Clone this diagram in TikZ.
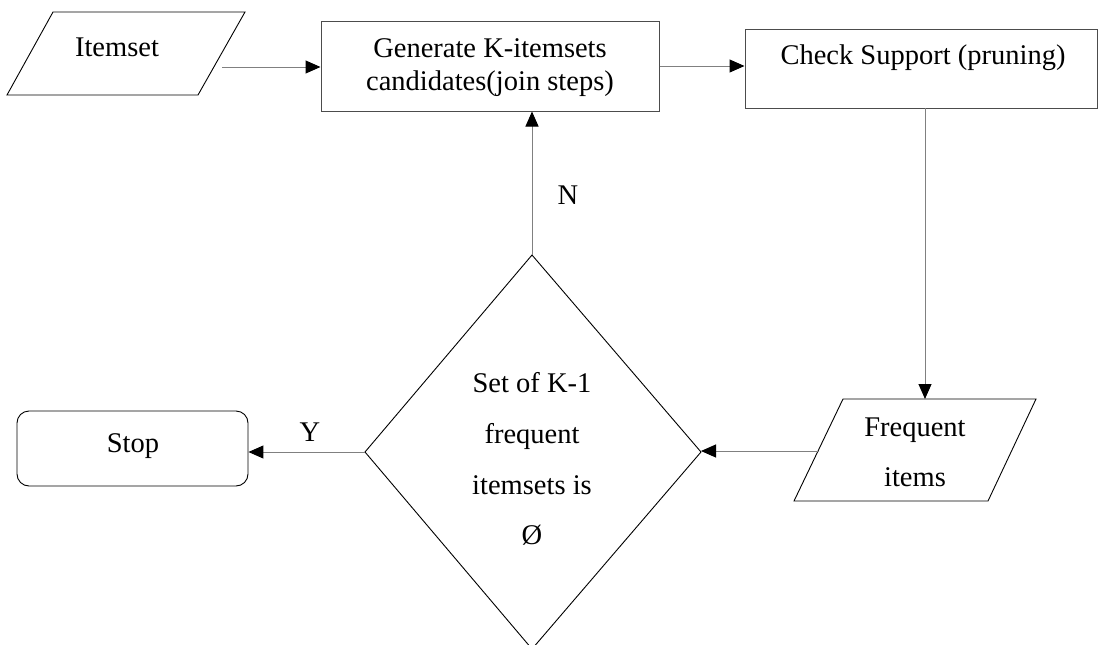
\documentclass[tikz,border=0pt]{standalone}
\usepackage{fontspec}
\setmainfont{Liberation Serif}
\usetikzlibrary{arrows.meta}
\begin{document}
\begin{tikzpicture}[x=1pt,y=-1pt,
  shapeline/.style={draw=black,line width=0.9pt},
  box/.style={draw=black!70,line width=1pt},
  conn/.style={draw=black!50,line width=1pt,-{Triangle[length=15pt,width=13pt,color=black]}},
  txt/.style={font=\fontsize{28.5}{34}\selectfont,inner sep=0pt,align=center},
  lbl/.style={font=\fontsize{28.5}{34}\selectfont,inner sep=0pt}]
\useasboundingbox (0,0) rectangle (1098,645);
% Itemset
\draw[shapeline] (53,12) -- (245,12) -- (198,95) -- (7,95) -- cycle;
\coordinate (itemsetout) at (222,67);
\node[txt] (itemset) at (117,47) {Itemset};
% Generate
\node[box,minimum width=338pt,minimum height=90pt,inner sep=0pt] (gen) at (490,66) {};
\node[txt,font=\fontsize{28.5}{33}\selectfont] (gentxt) at (490,68) {Generate K-itemsets\\candidates(join steps)};
% Check
\node[box,minimum width=352pt,minimum height=79pt,inner sep=0pt] (check) at (921,68.5) {};
\node[txt] (checktxt) at (923,57.5) {Check Support (pruning)};
\coordinate (cdown) at (925,108);
% Frequent items
\draw[shapeline] (843,399) -- (1036,399) -- (988,501) -- (794,501) -- cycle;
\coordinate (freqtop) at (925,399);
\coordinate (freqout) at (819,451);
\node[txt,font=\fontsize{28.5}{50}\selectfont] (freqtxt) at (915,452) {Frequent\\items};
% Diamond
\draw[shapeline] (532,255) -- (701,452) -- (532,649) -- (365,452) -- cycle;
\coordinate (dtop) at (532,255);
\coordinate (dright) at (701,452);
\coordinate (dleft) at (365,452);
\node[txt,font=\fontsize{28.5}{50.7}\selectfont] (dtxt) at (532,459) {Set of K-1\\frequent\\itemsets is\\Ø};
% Stop
\node[draw=black,line width=0.9pt,rounded corners=12pt,minimum width=231pt,minimum height=75pt,inner sep=0pt] (stop) at (132.5,448.5) {};
\node[txt] (stoptxt) at (133,446.5) {Stop};
% connectors
\draw[conn] (itemsetout) -- (itemsetout -| gen.west);
\draw[conn] (gen.east) -- (gen.east -| check.west);
\draw[conn] (cdown) -- (freqtop);
\draw[conn] (freqout) -- (freqout -| dright);
\draw[conn] (dtop) -- (dtop |- gen.south);
\draw[conn] (dleft) -- (dleft -| stop.east);
% labels
\node[lbl] (nlab) at (568,195.5) {N};
\node[lbl] (ylab) at (310,432) {Y};
\end{tikzpicture}
\end{document}
